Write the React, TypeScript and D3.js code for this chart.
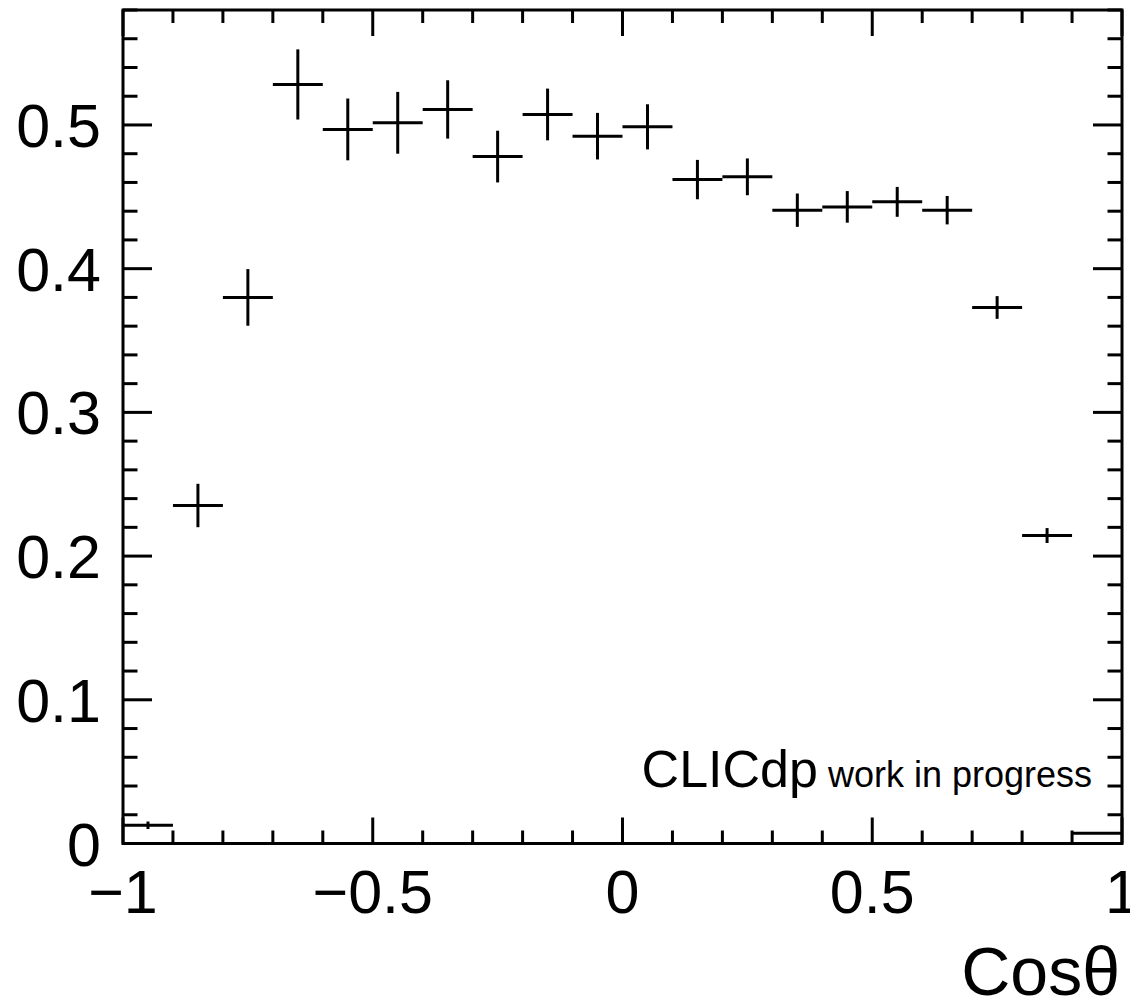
import React from "react";
import * as d3 from "d3";

const binLow = [-1, -0.9, -0.8, -0.7, -0.6, -0.5, -0.4, -0.3, -0.2, -0.1, 0, 0.1, 0.2, 0.3, 0.4, 0.5, 0.6, 0.7, 0.8, 0.9];
const binWidth = 0.1;
const values = [0.0127, 0.2352, 0.38, 0.5282, 0.4969, 0.5015, 0.5108, 0.478, 0.5073, 0.4922, 0.4987, 0.462, 0.4639, 0.4407, 0.443, 0.4465, 0.4407, 0.373, 0.2143, 0.0071];
const errors = [0.0026, 0.0151, 0.0197, 0.0244, 0.0215, 0.0215, 0.0203, 0.018, 0.018, 0.0162, 0.0157, 0.0137, 0.0128, 0.0116, 0.011, 0.0104, 0.0099, 0.0079, 0.0052, 0.0004];
const xMajor = [-1, -0.5, 0, 0.5, 1];
const xMajorLabels = ["\u22121", "\u22120.5", "0", "0.5", "1"];
const yMajor = [0, 0.1, 0.2, 0.3, 0.4, 0.5];
const yMajorLabels = ["0", "0.1", "0.2", "0.3", "0.4", "0.5"];
const xTitle = "Cos\u03b8";
const labelMain = "CLICdp";
const labelSub = "work in progress";

const W = 1130;
const H = 1002;
const L = 123, R = 1122, T = 10, B = 843.5;
const FONT = "'Liberation Sans', Arial, Helvetica, sans-serif";

export default function App() {
  const x = d3.scaleLinear().domain([-1, 1]).range([L, R]);
  const y = d3.scaleLinear().domain([0, 0.58]).range([B, T]);
  const xMinor = d3.range(-10, 11).map((i) => i / 10).filter((v) => Math.abs(v * 2 - Math.round(v * 2)) > 1e-6);
  const yMinor = d3.range(0, 30).map((i) => i * 0.02).filter((v) => v <= 0.58 && Math.abs(v * 10 - Math.round(v * 10)) > 1e-6);
  const sw = 3;
  const xMajLen = 26, xMinLen = 13, yMajLen = 29, yMinLen = 14.5;
  return (
    <svg width={W} height={H} style={{ position: "absolute", left: 0, top: 0, background: "#fff" }} fontFamily={FONT}>
      <rect x={0} y={0} width={W} height={H} fill="#fff" />
      <g stroke="#000" strokeWidth={sw}>
        {xMajor.map((v) => (
          <g key={"xm" + v}>
            <line x1={x(v)} x2={x(v)} y1={B} y2={B - xMajLen} />
            <line x1={x(v)} x2={x(v)} y1={T} y2={T + xMajLen} />
          </g>
        ))}
        {xMinor.map((v) => (
          <g key={"xn" + v}>
            <line x1={x(v)} x2={x(v)} y1={B} y2={B - xMinLen} />
            <line x1={x(v)} x2={x(v)} y1={T} y2={T + xMinLen} />
          </g>
        ))}
        {yMajor.map((v) => (
          <g key={"ym" + v}>
            <line x1={L} x2={L + yMajLen} y1={y(v)} y2={y(v)} />
            <line x1={R} x2={R - yMajLen} y1={y(v)} y2={y(v)} />
          </g>
        ))}
        {yMinor.map((v) => (
          <g key={"yn" + v}>
            <line x1={L} x2={L + yMinLen} y1={y(v)} y2={y(v)} />
            <line x1={R} x2={R - yMinLen} y1={y(v)} y2={y(v)} />
          </g>
        ))}
      </g>
      <g stroke="#000" strokeWidth={sw}>
        {values.map((v, i) => {
          const xc = x(binLow[i] + binWidth / 2);
          return (
            <g key={"d" + i}>
              <line x1={x(binLow[i])} x2={x(binLow[i] + binWidth)} y1={y(v)} y2={y(v)} />
              <line x1={xc} x2={xc} y1={y(v - errors[i])} y2={y(v + errors[i])} />
            </g>
          );
        })}
      </g>
      <rect x={L} y={T} width={R - L} height={B - T} fill="none" stroke="#000" strokeWidth={sw} />
      <g fontSize={61} fill="#000">
        {yMajor.map((v, i) => (
          <text key={"yl" + v} x={101} y={y(v) + 22} textAnchor="end">{yMajorLabels[i]}</text>
        ))}
        {xMajor.map((v, i) => (
          <text key={"xl" + v} x={x(v)} y={913} textAnchor="middle">{xMajorLabels[i]}</text>
        ))}
      </g>
      <text x={1120} y={995} fontSize={68} textAnchor="end" fill="#000">{xTitle}</text>
      <text x={1092} y={787} textAnchor="end" fill="#000">
        <tspan fontSize={52}>{labelMain}</tspan>
        <tspan fontSize={36}>{" " + labelSub}</tspan>
      </text>
    </svg>
  );
}
